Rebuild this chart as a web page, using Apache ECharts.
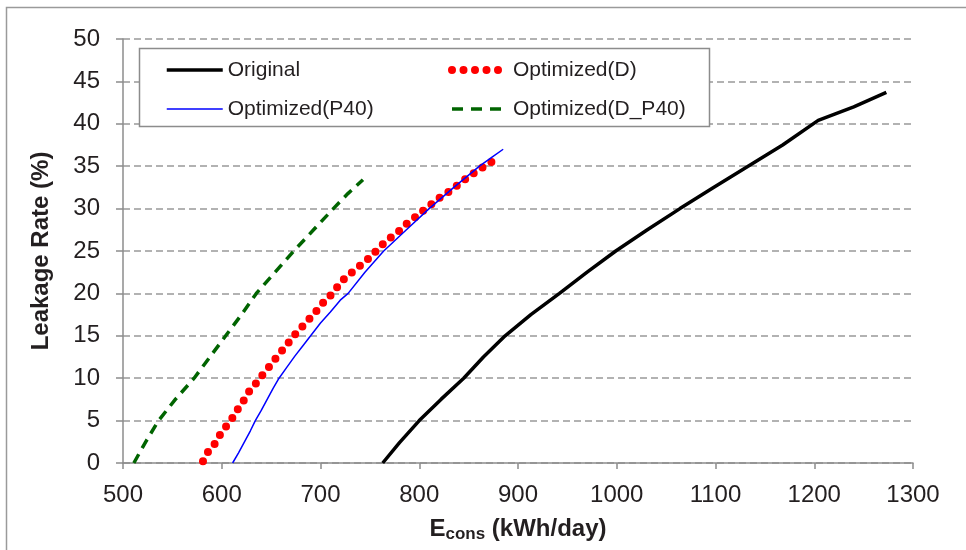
<!DOCTYPE html>
<html>

<head>
    <meta charset='utf-8'>
    <title>Leakage Rate vs Energy Consumption</title>
    <script src='https://cdn.jsdelivr.net/npm/echarts@6/dist/echarts.min.js'></script>
    <style>
        html, body { margin: 0; padding: 0; background: #fff; }
        #chart { width: 966px; height: 550px; }
    </style>
</head>

<body>
    <div id='chart'></div>

    <script type='text/javascript'>
        // [Econs (kWh/day), leakage rate (%)]
        const originalData = [
            [763, 0], [780, 2.4], [800, 5], [822, 7.5], [845, 10], [865, 12.5], [887, 15],
            [913, 17.5], [942, 20], [970, 22.5], [999, 25], [1031, 27.5], [1064, 30],
            [1098, 32.5], [1133, 35], [1168, 37.5], [1204, 40.4], [1240, 42], [1273, 43.7]
        ]
        const optDData = [
            [581, 0.2], [587, 1.5], [594, 2.4], [599, 3.5], [605, 4.4], [612, 5.5], [617, 6.5],
            [623, 7.5], [628, 8.5], [634, 9.3], [640, 10.2], [647, 11.2], [653, 12.1],
            [660, 13.1], [667, 14.1], [673, 15], [681, 16], [688, 16.9], [695, 17.8],
            [701, 18.7], [709, 19.6], [716, 20.6], [722, 21.5], [729, 22.2], [737, 23],
            [745, 23.7], [752, 24.5], [763, 25.8], [770, 26.5], [779, 27.3], [786, 28.1],
            [794, 28.8], [802, 29.6], [809, 30.2], [817, 31], [826, 31.7], [834, 32.3],
            [842, 33.1], [851, 33.8], [859, 34.5], [868, 35.1], [877, 35.8]
        ]
        const optP40Data = [
            [611, 0], [617, 1.2], [623, 2.5], [629, 3.8], [634, 5], [640, 6.2], [646, 7.5],
            [652, 8.8], [658, 10], [666, 11.3], [674, 12.6], [682, 13.8], [690, 15],
            [700, 16.5], [710, 17.8], [720, 19.2], [728, 20], [745, 22.5], [764, 25],
            [787, 27.5], [810, 30], [835, 32.5], [861, 35], [873, 36], [885, 37]
        ]
        const optDP40Data = [
            [511, 0], [523, 2.5], [536, 5], [553, 7.5], [572, 10], [588, 12.5], [604, 15],
            [620, 17.5], [635, 20], [654, 22.5], [673, 25], [693, 27.5], [713, 30],
            [728, 31.8], [743, 33.4]
        ]

        const textColor = '#231f20'
        const axisGray = '#8c8c8c'
        const font = "'Liberation Sans', Arial, sans-serif"
        const legendText = { fontSize: 21, color: textColor, lineHeight: 24, fontFamily: font }

        const chart = echarts.init(document.getElementById('chart'))
        const option = {
            animation: false,
            backgroundColor: '#fff',
            textStyle: { fontFamily: font },
            grid: { left: 123, right: 53, top: 39, bottom: 87 },
            graphic: [
                // outer frame and legend box
                { type: 'rect', shape: { x: 6.5, y: 7.5, width: 1000, height: 600 },
                  style: { fill: 'none', stroke: '#9a9a9a', lineWidth: 1.5 }, silent: true, z: -1 },
                { type: 'rect', shape: { x: 139.5, y: 48.5, width: 570, height: 78 },
                  style: { fill: '#fff', stroke: '#8c8c8c', lineWidth: 1.5 }, silent: true, z: 5 }
            ],
            legend: [
                {
                    data: [
                        { name: 'Original', lineStyle: { width: 3.5 } },
                        { name: 'Optimized(P40)', lineStyle: { width: 1.5 } }
                    ],
                    orient: 'vertical', left: 165, top: 58, itemGap: 15, padding: 0,
                    itemWidth: 56, itemHeight: 14, z: 10,
                    itemStyle: { opacity: 0 },
                    textStyle: legendText
                },
                {
                    data: [
                        { name: 'Optimized(D)', lineStyle: { width: 8, type: [0, 11.5], cap: 'round' } },
                        { name: 'Optimized(D_P40)', lineStyle: { width: 3.5, type: [11, 8] } }
                    ],
                    orient: 'vertical', left: 448, top: 58, itemGap: 15, padding: 0,
                    itemWidth: 56, itemHeight: 14, z: 10,
                    itemStyle: { opacity: 0 },
                    textStyle: legendText
                }
            ],
            xAxis: {
                type: 'value', min: 500, max: 1300, interval: 100,
                name: '{b|E}{s|cons}{b| (kWh/day)}',
                nameLocation: 'middle', nameGap: 52,
                nameTextStyle: {
                    rich: {
                        b: { fontSize: 24, fontWeight: 'bold', color: textColor, fontFamily: font, lineHeight: 28 },
                        s: { fontSize: 17, fontWeight: 'bold', color: textColor, fontFamily: font, lineHeight: 28, padding: [10, 0, 0, 0] }
                    }
                },
                axisLine: { lineStyle: { color: axisGray, width: 1.5 } },
                axisTick: { length: 6, lineStyle: { color: axisGray, width: 1.5 } },
                axisLabel: { fontSize: 24, color: textColor, margin: 20, formatter: v => String(v) },
                splitLine: { show: false }
            },
            yAxis: {
                type: 'value', min: 0, max: 50, interval: 5,
                name: 'Leakage Rate (%)',
                nameLocation: 'middle', nameGap: 70, nameRotate: 90,
                nameTextStyle: { fontSize: 24, fontWeight: 'bold', color: textColor },
                axisLine: { show: true, lineStyle: { color: axisGray, width: 1.5 } },
                axisTick: { show: true, length: 7, lineStyle: { color: axisGray, width: 1.5 } },
                axisLabel: { fontSize: 24, color: textColor, margin: 23 },
                splitLine: { lineStyle: { color: '#999', width: 1.5, type: [7, 4] } }
            },
            series: [
                {
                    name: 'Original', type: 'line', data: originalData, symbol: 'none', z: 3,
                    lineStyle: { color: '#000', width: 3.5 }, itemStyle: { color: '#000' }
                },
                {
                    name: 'Optimized(D)', type: 'line', data: optDData, symbol: 'none', z: 3,
                    lineStyle: { color: '#ff0000', width: 8, type: [0, 10.5], cap: 'round' },
                    itemStyle: { color: '#ff0000' }
                },
                {
                    name: 'Optimized(P40)', type: 'line', data: optP40Data, symbol: 'none', z: 4,
                    lineStyle: { color: '#0000ff', width: 1.5 }, itemStyle: { color: '#0000ff' }
                },
                {
                    name: 'Optimized(D_P40)', type: 'line', data: optDP40Data, symbol: 'none', z: 3,
                    lineStyle: { color: '#006400', width: 3.5, type: [10, 7] },
                    itemStyle: { color: '#006400' }
                }
            ]
        }
        chart.setOption(option)
    </script>
</body>

</html>
